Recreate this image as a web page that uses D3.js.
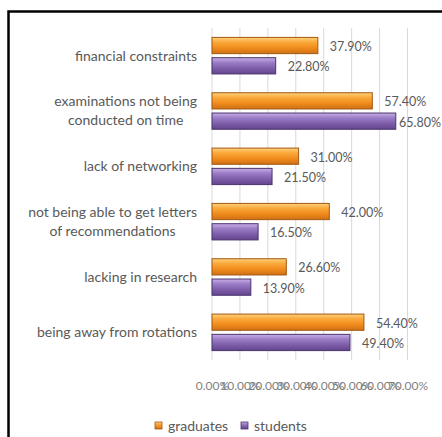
<!DOCTYPE html>
<html>
<head>
<meta charset="utf-8">
<script src="https://cdn.jsdelivr.net/npm/d3@7/dist/d3.min.js"></script>
<style>
  html, body { margin: 0; padding: 0; background: #fff; }
  #chart { width: 442px; height: 437px; }
</style>
</head>
<body>
<div id="chart"></div>
<script>
// ---- data ----
const categories = [
  'financial constraints',
  'examinations not being|conducted on time',
  'lack of networking',
  'not being able to get letters|of recommendations',
  'lacking in research',
  'being away from rotations'
];
const graduates = [37.9, 57.4, 31.0, 42.0, 26.6, 54.4];
const students = [22.8, 65.8, 21.5, 16.5, 13.9, 49.4];
const seriesNames = ['graduates', 'students'];
const xTicks = [0, 10, 20, 30, 40, 50, 60, 70];

(function () {
  const W = 442, H = 437;
  const FONT = 'Lato, "Open Sans", sans-serif';
  const TEXT = '#595959';

  const svg = d3.select('#chart').append('svg').attr('width', W).attr('height', H);
  const defs = svg.append('defs');

  const palettes = {
    graduates: { stops: ['#ffd27c', '#faa83a', '#f08b1c', '#cf7014'], stroke: '#a35812' },
    students: { stops: ['#c8afe8', '#9b7dc6', '#7e5da9', '#63448d'], stroke: '#4a346c' }
  };
  Object.entries(palettes).forEach(([key, p]) => {
    const grad = defs.append('linearGradient').attr('id', 'g-' + key)
      .attr('x1', 0).attr('y1', 0).attr('x2', 0).attr('y2', 1);
    [0, 0.3, 0.65, 1].forEach((o, i) => {
      grad.append('stop').attr('offset', o).attr('stop-color', p.stops[i]);
    });
  });

  // outer frame (runs off the right and bottom edges like the reference)
  svg.append('rect').attr('x', 8.5).attr('y', 11.5).attr('width', W).attr('height', H)
    .attr('fill', 'none').attr('stroke', '#000').attr('stroke-width', 2.5);

  const plot = { left: 212, right: 407.5, top: 28, bottom: 360 };

  const x = d3.scaleLinear().domain([0, 70]).range([plot.left, plot.right]);
  const y = d3.scaleBand().domain(categories).range([plot.top, plot.bottom])
    .paddingInner(0.34).paddingOuter(0.17);
  const sub = d3.scaleBand().domain(seriesNames).range([0, y.bandwidth()]).paddingInner(0.2);

  // gridlines
  svg.append('g').selectAll('line').data(xTicks).join('line')
    .attr('x1', d => x(d)).attr('x2', d => x(d))
    .attr('y1', plot.top).attr('y2', plot.bottom)
    .attr('stroke', '#d9d9d9').attr('stroke-width', 1);

  // x axis labels (they crowd each other in the original too)
  const xAxis = svg.append('g').attr('transform', `translate(0,${plot.bottom + 23})`)
    .call(d3.axisBottom(x).tickValues(xTicks).tickSize(0).tickFormat(d => d.toFixed(2) + '%'));
  xAxis.select('.domain').remove();
  xAxis.selectAll('text').attr('fill', '#7f7f7f').attr('font-size', '12px')
    .attr('font-family', FONT).attr('dy', '0.35em');

  // category labels: block right-aligned to the axis, lines centred within it
  const catG = svg.append('g').selectAll('text').data(categories).join('text')
    .attr('y', d => y(d) + y.bandwidth() / 2)
    .attr('text-anchor', 'middle')
    .attr('fill', TEXT).attr('font-size', '14px').attr('font-family', FONT);
  catG.each(function (d) {
    const lines = d.split('|');
    const t = d3.select(this);
    lines.forEach((l, i) => {
      t.append('tspan').attr('x', 0)
        .attr('dy', i === 0 ? (0.35 - (lines.length - 1) * 0.68) + 'em' : '1.36em')
        .text(l);
    });
  });
  catG.each(function () {
    const w = this.getBBox().width;
    d3.select(this).selectAll('tspan').attr('x', 197 - w / 2);
  });

  const rows = categories.map((c, i) => ({ cat: c, graduates: graduates[i], students: students[i] }));

  const groups = svg.append('g').selectAll('g').data(rows).join('g')
    .attr('transform', d => `translate(0,${y(d.cat)})`);

  seriesNames.forEach(s => {
    groups.append('rect')
      .attr('x', x(0))
      .attr('y', sub(s))
      .attr('width', d => x(d[s]) - x(0))
      .attr('height', sub.bandwidth())
      .attr('fill', `url(#g-${s})`)
      .attr('stroke', palettes[s].stroke).attr('stroke-width', 1);
    groups.append('text')
      .attr('x', d => x(d[s]) + 12)
      .attr('y', sub(s) + sub.bandwidth() / 2 + 1)
      .attr('dy', '0.35em')
      .attr('fill', TEXT).attr('font-size', '12.5px').attr('font-family', FONT)
      .text(d => d[s].toFixed(2) + '%')
      .each(function (d) {
        // keep the label inside the chart area, but never over its bar
        const w = this.getComputedTextLength();
        const cur = +d3.select(this).attr('x');
        if (cur + w > W - 1) d3.select(this).attr('x', Math.max(x(d[s]) + 2, W - 1 - w));
      });
  });

  // legend
  const legendX = [155, 241];
  const legend = svg.append('g').selectAll('g').data(seriesNames).join('g')
    .attr('transform', (d, i) => `translate(${legendX[i]},426)`);
  legend.append('rect').attr('x', 0).attr('y', -4).attr('width', 7).attr('height', 7)
    .attr('fill', d => `url(#g-${d})`).attr('stroke', d => palettes[d].stroke).attr('stroke-width', 0.8);
  legend.append('text').attr('x', 13).attr('y', 0).attr('dy', '0.35em')
    .attr('fill', TEXT).attr('font-size', '14px').attr('font-family', FONT)
    .text(d => d);
})();
</script>
</body>
</html>
